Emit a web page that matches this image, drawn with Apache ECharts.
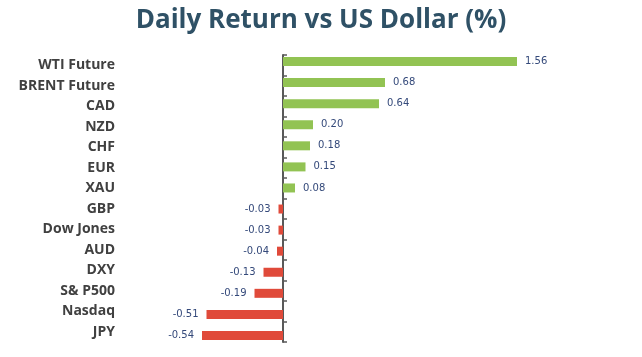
<!DOCTYPE html>
<html>
<head>
<meta charset="utf-8">
<script src="https://cdn.jsdelivr.net/npm/echarts@6/dist/echarts.min.js"></script>
<style>html,body{margin:0;padding:0;background:#fff}#c{width:642px;height:357px}</style>
</head>
<body>
<div id="c"></div>
<script>
const categories = ["WTI Future","BRENT Future","CAD","NZD","CHF","EUR","XAU","GBP","Dow Jones","AUD","DXY","S& P500","Nasdaq","JPY"];
const values = [1.56,0.68,0.64,0.20,0.18,0.15,0.08,-0.03,-0.03,-0.04,-0.13,-0.19,-0.51,-0.54];
const titleText = "Daily Return vs US Dollar (%)";

const chart = echarts.init(document.getElementById('c'), null, {renderer:'canvas'});
chart.setOption({
  animation:false,
  title:{text:titleText,left:'center',top:3,textStyle:{fontFamily:'Open Sans',fontWeight:'bold',fontSize:26,color:'#2f5166'}},
  grid:[
    {left:193,right:59,top:51,bottom:11,containLabel:false,outerBoundsMode:'none'},
    {left:193,right:59,top:55,bottom:15,containLabel:false,outerBoundsMode:'none'}
  ],
  xAxis:[
    {type:'value',gridIndex:0,min:-0.6,max:2.0,show:false,splitLine:{show:false}},
    {type:'value',gridIndex:1,min:-0.6,max:2.0,show:false,splitLine:{show:false}}
  ],
  yAxis:[
    {type:'category',gridIndex:0,data:categories,inverse:true,show:false},
    {type:'category',gridIndex:1,data:categories,inverse:true,
      axisLine:{onZero:true,lineStyle:{color:'#595959',width:2}},
      axisTick:{show:true,inside:true,length:4,lineStyle:{color:'#595959',width:1.5}},
      axisLabel:{margin:78,fontFamily:'Open Sans',fontWeight:'bold',fontSize:14,color:'#404040'}}
  ],
  series:[{type:'bar',xAxisIndex:0,yAxisIndex:0,barWidth:9,
    data:values.map(v=>({value:v,itemStyle:{color:v>=0?'#92c353':'#e04a3a'},
      label:{position:v>=0?'right':'left'}})),
    label:{show:true,distance:8,fontFamily:'DejaVu Sans',fontSize:10,color:'#34497a',formatter:p=>p.value.toFixed(2)}
  }]
});
</script>
</body>
</html>
